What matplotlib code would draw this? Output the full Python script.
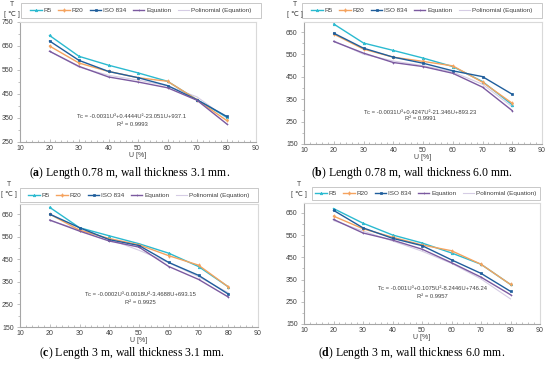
import matplotlib
matplotlib.use("Agg")
import matplotlib.pyplot as plt
import matplotlib.ticker as mticker
from matplotlib.patches import Rectangle

plt.rcParams['font.family'] = ['Liberation Sans', 'DejaVu Sans']
plt.rcParams['mathtext.fontset'] = 'custom'
plt.rcParams['mathtext.rm'] = 'Liberation Serif'
plt.rcParams['mathtext.bf'] = 'Liberation Serif:bold'

W, H = 550, 367

U = [20, 30, 40, 50, 60, 70, 80]
series_names = ['R5', 'R20', 'ISO 834', 'Equation', 'Polinomial (Equation)']

# (a) Length 0.78 m, wall thickness 3.1 mm
a_r5 = [694, 607, 570, 538, 503, 426, 354]
a_r20 = [650, 579, 544, 518, 503, 426, 340]
a_iso = [671, 590, 544, 518, 485, 426, 357]
a_eq = [628, 565, 521, 500, 476, 424, 326]
a_poly = [629, 562, 528, 508, 484, 438, 350]

# (b) Length 0.78 m, wall thickness 6.0 mm
b_r5 = [686, 601, 568, 534, 496, 429, 325]
b_r20 = [641, 574, 538, 519, 499, 426, 332]
b_iso = [645, 578, 538, 511, 477, 451, 372]
b_eq = [608, 556, 514, 496, 466, 404, 299]
b_poly = [611, 551, 521, 500, 472, 417, 316]

# (c) Length 3 m, wall thickness 3.1 mm
c_r5 = [680, 590, 554, 519, 477, 418, 328]
c_r20 = [650, 579, 542, 514, 466, 424, 328]
c_iso = [650, 590, 537, 511, 436, 379, 296]
c_eq = [624, 575, 531, 504, 418, 361, 283]
c_poly = [621, 582, 539, 490, 435, 373, 302]

# (d) Length 3 m, wall thickness 6.0 mm
d_r5 = [670, 604, 551, 515, 470, 419, 328]
d_r20 = [636, 579, 541, 506, 480, 419, 328]
d_iso = [662, 583, 536, 503, 439, 378, 297]
d_eq = [621, 560, 528, 487, 426, 361, 282]
d_poly = [616, 569, 524, 478, 423, 353, 263]

equations = [
    ('Tc = -0.0031U³+0.4444U²-23.051U+937.1', 'R² = 0.9993'),
    ('Tc = -0.0031U³+0.4247U²-21.346U+893.23', 'R² = 0.9991'),
    ('Tc = -0.0002U³-0.0018U²-3.4688U+693.15', 'R² = 0.9925'),
    ('Tc = -0.001U³+0.1075U²-8.2446U+746.24', 'R² = 0.9957'),
]
captions = [
    r'($\mathbf{a}$) Length 0.78 m, wall thickness 3.1 mm.',
    r'($\mathbf{b}$) Length 0.78 m, wall thickness 6.0 mm.',
    r'($\mathbf{c}$) Length 3 m, wall thickness 3.1 mm.',
    r'($\mathbf{d}$) Length 3 m, wall thickness 6.0 mm.',
]

colors = ['#2BBAD0', '#F5A35E', '#1F5E9C', '#7B5AA0', '#D5CCE4']
markers = ['^', 'd', 's', '+', None]

# pixel layout: axes box, legend box, T label pos, equation lines, caption pos, ylim
layouts = [
    dict(ax=(20, 22, 256, 142), leg=(21, 3, 261, 18), tl=(12, 5),
         eq=(132, 117, 132, 125, 4.2), cap=(130, 173), ylim=(250, 750)),
    dict(ax=(304, 22, 542, 144), leg=(302, 3, 542, 18), tl=(295, 5),
         eq=(420, 112, 420, 119, 4.2), cap=(412, 173), ylim=(150, 695)),
    dict(ax=(20, 204, 258, 327), leg=(20, 188, 258, 202), tl=(9, 185),
         eq=(140, 295, 140, 303, 4.2), cap=(132, 353), ylim=(150, 695)),
    dict(ax=(304, 203, 540, 324), leg=(312, 187, 540, 200), tl=(299, 185),
         eq=(432, 288, 432, 297, 4.2), cap=(412, 353), ylim=(150, 695)),
]
panels = [
    (a_r5, a_r20, a_iso, a_eq, a_poly),
    (b_r5, b_r20, b_iso, b_eq, b_poly),
    (c_r5, c_r20, c_iso, c_eq, c_poly),
    (d_r5, d_r20, d_iso, d_eq, d_poly),
]


def fbox(x0, y0, x1, y1):
    return [x0 / W, 1 - y1 / H, (x1 - x0) / W, (y1 - y0) / H]


fig = plt.figure(figsize=(W / 100, H / 100), dpi=100)
fig.patch.set_facecolor('white')

for data, lay, eq, cap in zip(panels, layouts, equations, captions):
    ax = fig.add_axes(fbox(*lay['ax']))
    handles = []
    for vals, name, c, m in zip(data, series_names, colors, markers):
        poly = name.startswith('Pol')
        h, = ax.plot(U, vals, color=c, lw=0.8 if poly else 1.0, marker=m,
                     ms=1.8, mew=0.5, label=name, zorder=2 if poly else 3)
        handles.append(h)
    ax.set_xlim(10, 90)
    ax.set_ylim(*lay['ylim'])
    ax.xaxis.set_major_locator(mticker.MultipleLocator(10))
    ax.xaxis.set_minor_locator(mticker.MultipleLocator(2))
    ax.yaxis.set_major_locator(mticker.FixedLocator(range(lay['ylim'][0], 760, 100)))
    ax.yaxis.set_minor_locator(mticker.FixedLocator(range(lay['ylim'][0] + 50, 760, 100)))
    for s in ax.spines.values():
        s.set_color('#D9D9D9')
        s.set_linewidth(0.8)
    ax.spines['left'].set_color('#A6A6A6')
    ax.spines['bottom'].set_color('#A6A6A6')
    ax.tick_params(which='both', labelsize=5, colors='#A6A6A6', labelcolor='#404040', pad=2)
    ax.tick_params(which='major', length=2.5, width=0.5)
    ax.tick_params(which='minor', length=1.5, width=0.5)
    ax.tick_params(axis='x', which='both', direction='in')
    ax.set_xlabel('U [%]', fontsize=5, color='#404040', labelpad=0)

    # legend box drawn as its own frame, entries centred inside it
    x0, y0, x1, y1 = lay['leg']
    b = fbox(x0, y0, x1, y1)
    fig.add_artist(Rectangle((b[0], b[1]), b[2], b[3], transform=fig.transFigure,
                             fill=False, edgecolor='#BFBFBF', lw=0.6))
    fig.legend(handles=handles, loc='center', ncol=5,
               bbox_to_anchor=(b[0] + b[2] / 2, b[1] + b[3] / 2), fontsize=4.6,
               frameon=False, handlelength=1.8, handletextpad=0.3,
               columnspacing=1.0, labelcolor='#404040', borderpad=0)

    tx, ty = lay['tl']
    fig.text(tx / W, 1 - ty / H, 'T', fontsize=5, color='#404040',
             ha='center', va='center')
    fig.text(tx / W, 1 - (ty + 9) / H, '[ ℃ ]', fontsize=5, color='#404040',
             ha='center', va='center')

    e1x, e1y, e2x, e2y, efs = lay['eq']
    fig.text(e1x / W, 1 - e1y / H, eq[0], fontsize=efs, color='#404040',
             ha='center', va='center')
    fig.text(e2x / W, 1 - e2y / H, eq[1], fontsize=efs, color='#404040',
             ha='center', va='center')

    cx, cy = lay['cap']
    fig.text(cx / W, 1 - cy / H, cap, fontsize=8.5, family='Liberation Serif',
             ha='center', va='center', color='black')

fig.savefig('out.png', dpi=100, facecolor='white')
